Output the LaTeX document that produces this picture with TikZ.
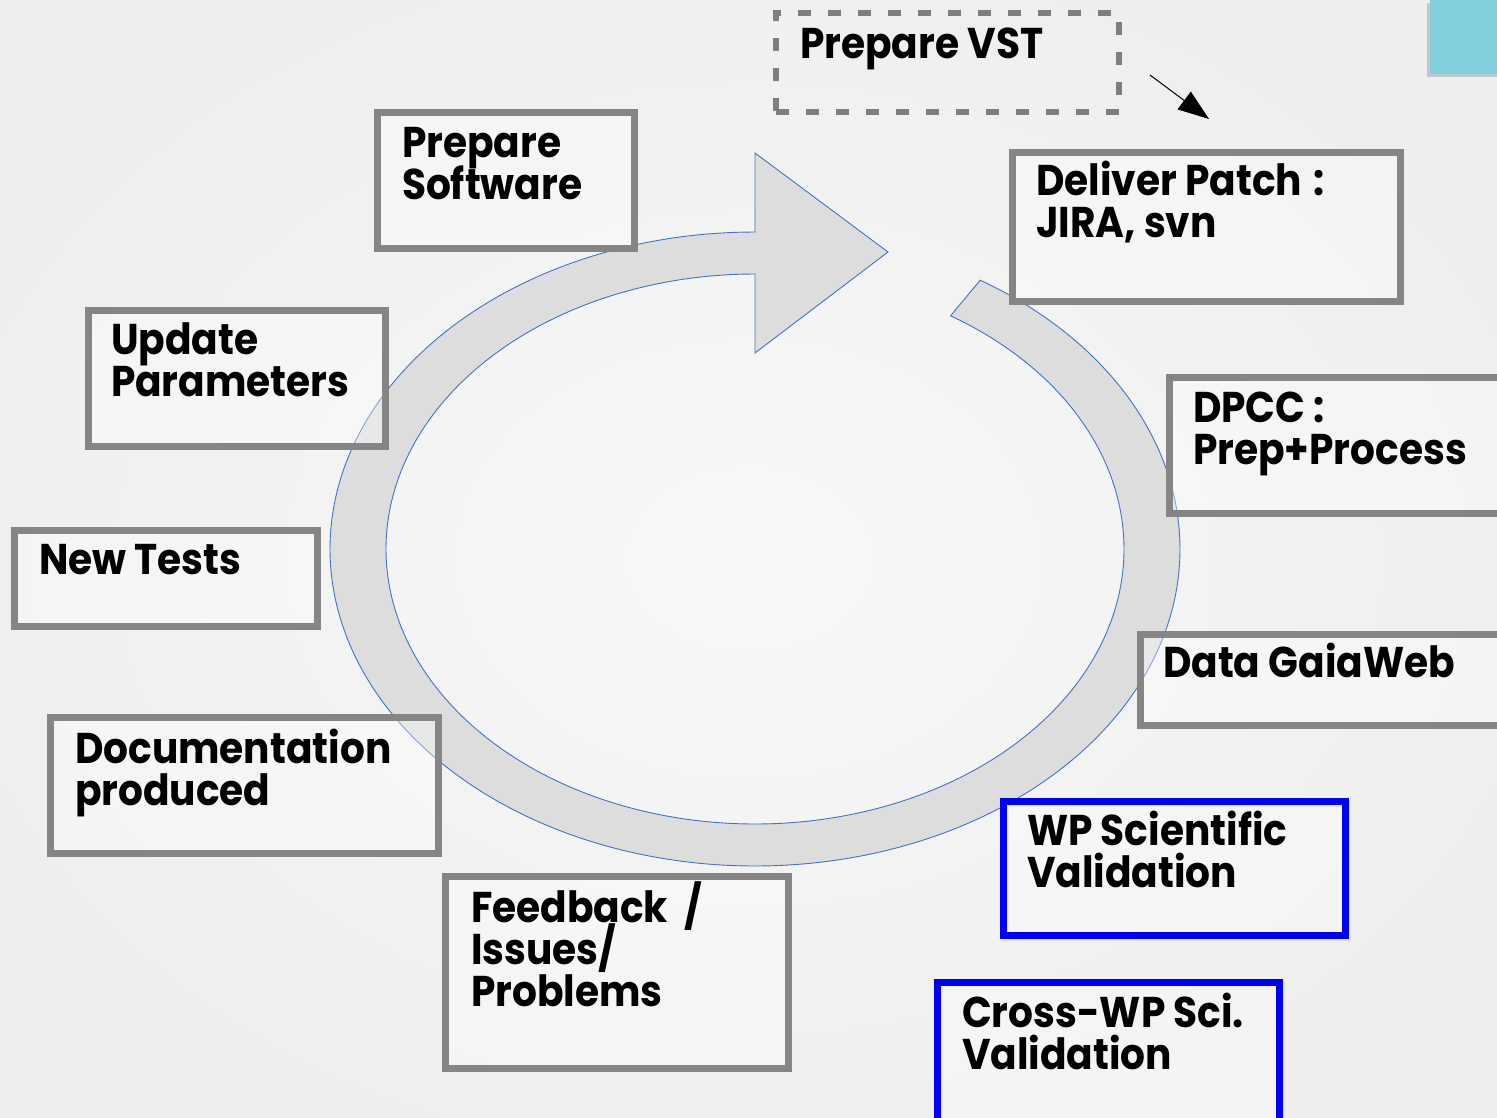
\documentclass[tikz,border=0pt]{standalone}
\usepackage{fontspec}
\setmainfont{Poppins}[FakeStretch=0.91]
\usetikzlibrary{arrows.meta}

\definecolor{pagebg}{HTML}{EEEEEE}
\definecolor{pagemid}{HTML}{F8F8F8}
\definecolor{ringfill}{HTML}{DDDDDD}
\definecolor{ringline}{HTML}{4472C4}
\definecolor{boxgray}{HTML}{858585}
\definecolor{boxblue}{HTML}{0000FF}
\definecolor{tealtab}{HTML}{82D0DE}

\tikzset{
  stepbox/.style={draw=boxgray, line width=7pt, fill=white, fill opacity=0.35,
    rectangle, inner sep=0pt, outer sep=0pt, anchor=north west},
  bluebox/.style={stepbox, draw=boxblue},
  vstbox/.style={stepbox, line width=5.5pt, dash pattern=on 13pt off 17pt, draw=boxgray!95!black, fill=none},
  steptext/.style={anchor=base west, inner sep=0pt, outer sep=0pt, text=black,
    font=\fontsize{43}{42}\selectfont\bfseries},
}
% stacked label lines with a fixed baseline distance
\newcommand{\twolines}[2]{\vtop{\lineskiplimit=-200pt\lineskip=0pt\hbox{#1}\hbox{#2}}}
\newcommand{\threelines}[3]{\vtop{\lineskiplimit=-200pt\lineskip=0pt\hbox{#1}\hbox{#2}\hbox{#3}}}

\begin{document}
\begin{tikzpicture}[x=1pt, y=-1pt]
  % page and background
  \useasboundingbox (0,0) rectangle (1497,1117);
  \clip (0,0) rectangle (1497,1117);
  \shade[inner color=pagemid, outer color=pagebg] (-100,-80) rectangle (1597,1197);

  % corner tab
  \fill[black!22] (1427,3) rectangle (1497,77);
  \fill[tealtab] (1430,0) rectangle (1497,74);

  % cycle arrow: outer arc, arrow head, inner arc back to the tail
  \filldraw[fill=ringfill, draw=ringline, line width=0.9pt, line join=miter]
    plot[domain=58:-270, samples=240, smooth] ({755+425*cos(\x)}, {549-317*sin(\x)})
    -- (755,153) -- (888,252) -- (755,353) -- (755,274)
    -- plot[domain=-270:58, samples=240, smooth] ({755+369*cos(\x)}, {549-275*sin(\x)})
    -- cycle;

  % step boxes
  \node[vstbox, minimum width=343pt, minimum height=99pt] (vstB) at (776,13) {};
  \node[steptext] (vstT) at (800,58) {Prepare VST};

  \node[stepbox, minimum width=257pt, minimum height=136pt] (swB) at (377.5,112.5) {};
  \node[steptext] (swT) at (402,157) {\twolines{Prepare}{Software}};

  \node[stepbox, minimum width=388pt, minimum height=149pt] (dpB) at (1012.5,152.5) {};
  \node[steptext] (dpT) at (1036,195) {\twolines{Deliver Patch\hspace{3pt} :}{JIRA, svn}};

  \node[stepbox, minimum width=297pt, minimum height=136pt] (upB) at (88,310) {};
  \node[steptext] (upT) at (111,354) {\twolines{Update}{Parameters}};

  \node[stepbox, minimum width=360pt, minimum height=136pt] (dcB) at (1169.5,377.5) {};
  \node[steptext] (dcT) at (1193,422) {\twolines{DPCC :}{Prep+Process}};

  \node[stepbox, minimum width=303pt, minimum height=96pt] (ntB) at (14.5,530.5) {};
  \node[steptext] (ntT) at (39,574) {New Tests};

  \node[stepbox, minimum width=390pt, minimum height=91pt] (gwB) at (1140,634.5) {};
  \node[steptext] (gwT) at (1163,677) {Data GaiaWeb};

  \node[stepbox, minimum width=388pt, minimum height=136pt] (doB) at (50.5,717.5) {};
  \node[steptext] (doT) at (75,763) {\twolines{Documentation}{produced}};

  \node[bluebox, minimum width=342pt, minimum height=134pt] (wpB) at (1003.5,801.5) {};
  \node[steptext] (wpT) at (1027,845) {\twolines{WP Scientific}{Validation}};

  \node[stepbox, minimum width=343pt, minimum height=192pt] (fbB) at (445.5,876.5) {};
  \node[steptext] (fbT) at (471,922) {\threelines{Feedback\hspace{8pt} /}{Issues/}{Problems}};

  \node[bluebox, minimum width=342pt, minimum height=160pt] (cwB) at (937.5,982.5) {};
  \node[steptext] (cwT) at (962,1027) {\twolines{Cross-WP Sci.}{Validation}};

  % pointer from the VST step towards patch delivery
  \coordinate (ptrA) at (1150,75);
  \coordinate (ptrB) at (1209,119);
  \draw[line width=1pt, -{Triangle[length=31pt, width=22pt]}] (ptrA) -- (ptrB);
\end{tikzpicture}
\end{document}
